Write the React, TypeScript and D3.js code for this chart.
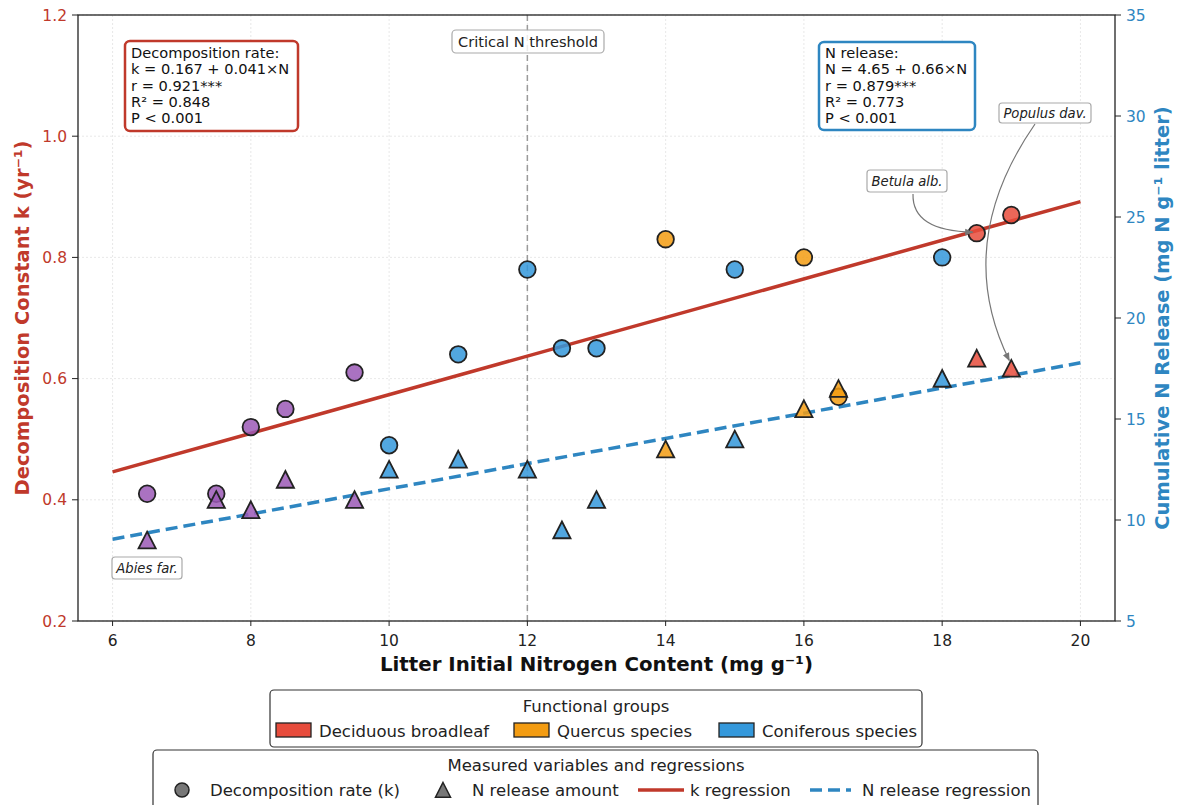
import React from "react";
import * as d3 from "d3";

// ---- Data ----
const nContent = [6.5, 7.5, 8, 8.5, 9.5, 10, 11, 12, 12.5, 13, 14, 15, 16, 16.5, 18, 18.5, 19];
const kValues = [0.41, 0.41, 0.52, 0.55, 0.61, 0.49, 0.64, 0.78, 0.65, 0.65, 0.83, 0.78, 0.8, 0.57, 0.8, 0.84, 0.87];
const nRelease = [9.0, 11.0, 10.5, 12.0, 11.0, 12.5, 13.0, 12.5, 9.5, 11.0, 13.5, 14.0, 15.5, 16.5, 17.0, 18.0, 17.5];
const groups = ["other", "other", "other", "other", "other", "conifer", "conifer", "conifer", "conifer", "conifer", "quercus", "conifer", "quercus", "quercus", "conifer", "deciduous", "deciduous"];

const kFitX = [6, 20];
const kFitY = [0.446, 0.892];
const nFitX = [6, 20];
const nFitY = [9.05, 17.78];

const xTicks = [6, 8, 10, 12, 14, 16, 18, 20];
const kTicks = [0.2, 0.4, 0.6, 0.8, 1.0, 1.2];
const nTicks = [5, 10, 15, 20, 25, 30, 35];
const threshold = 12;

const groupColors: Record<string, string> = {
  deciduous: "#e74c3c",
  quercus: "#f39c12",
  conifer: "#3498db",
  other: "#9b59b6",
};
const groupLegend = [
  { key: "deciduous", label: "Deciduous broadleaf" },
  { key: "quercus", label: "Quercus species" },
  { key: "conifer", label: "Coniferous species" },
];

const kBoxLines = ["Decomposition rate:", "k = 0.167 + 0.041×N", "r = 0.921***", "R² = 0.848", "P < 0.001"];
const nBoxLines = ["N release:", "N = 4.65 + 0.66×N", "r = 0.879***", "R² = 0.773", "P < 0.001"];

const RED = "#c0392b";
const BLUE = "#2e86c1";
const FONT = "DejaVu Sans, sans-serif";

export default function App() {
  const W = 1177, H = 805;
  const m = { left: 78, right: 1115, top: 15, bottom: 621 };
  const x = d3.scaleLinear().domain([5.5, 20.5]).range([m.left, m.right]);
  const yK = d3.scaleLinear().domain([0.2, 1.2]).range([m.bottom, m.top]);
  const yN = d3.scaleLinear().domain([5, 35]).range([m.bottom, m.top]);

  const kLine = d3.line<number>().x((_, i) => x(kFitX[i])).y((d) => yK(d))(kFitY) || "";
  const nLine = d3.line<number>().x((_, i) => x(nFitX[i])).y((d) => yN(d))(nFitY) || "";

  const triPath = (cx: number, cy: number, s: number) =>
    `M${cx},${cy - s}L${cx + s},${cy + s * 0.95}L${cx - s},${cy + s * 0.95}Z`;

  const idxB = nContent.indexOf(18.5);
  const idxP = nContent.indexOf(19);

  // annotation arrows (quadratic curves)
  const betS = [913, 194];
  const betE = [x(nContent[idxB]) - 4, yK(kValues[idxB]) - 1];
  const betC = [912, 231];
  const popS = [1035, 124];
  const popE = [x(nContent[idxP]) - 2, yN(nRelease[idxP]) - 8];
  const popC = [952, 244];

  return (
    <div style={{ position: "fixed", left: 0, top: 0 }}>
      <svg width={W} height={H} style={{ display: "block", fontFamily: FONT }}>
        <defs>
          <marker id="arr" viewBox="0 0 10 10" refX="9" refY="5" markerWidth="7" markerHeight="7" orient="auto-start-reverse">
            <path d="M0,1 L10,5 L0,9 Z" fill="#777" />
          </marker>
        </defs>
        <rect width={W} height={H} fill="white" />

        {/* grid */}
        {xTicks.map((t) => (
          <line key={"gx" + t} x1={x(t)} x2={x(t)} y1={m.top} y2={m.bottom} stroke="#e2e2e2" strokeWidth={0.8} strokeDasharray="2,2" />
        ))}
        {kTicks.map((t) => (
          <line key={"gy" + t} x1={m.left} x2={m.right} y1={yK(t)} y2={yK(t)} stroke="#e2e2e2" strokeWidth={0.8} strokeDasharray="2,2" />
        ))}

        {/* threshold line */}
        <line x1={x(threshold)} x2={x(threshold)} y1={m.top} y2={m.bottom} stroke="#9a9a9a" strokeWidth={1.5} strokeDasharray="6,4" />

        {/* regression lines */}
        <path d={kLine} fill="none" stroke={RED} strokeWidth={3.5} />
        <path d={nLine} fill="none" stroke={BLUE} strokeWidth={3.5} strokeDasharray="12,6" />

        {/* circles (k) */}
        {nContent.map((n, i) => (
          <circle key={"c" + i} cx={x(n)} cy={yK(kValues[i])} r={8.3} fill={groupColors[groups[i]]} fillOpacity={0.85} stroke="#222" strokeWidth={1.8} />
        ))}
        {/* triangles (N release) */}
        {nContent.map((n, i) => (
          <path key={"t" + i} d={triPath(x(n), yN(nRelease[i]), 8.6)} fill={groupColors[groups[i]]} fillOpacity={0.85} stroke="#222" strokeWidth={1.8} strokeLinejoin="miter" />
        ))}

        {/* spines */}
        <rect x={m.left} y={m.top} width={m.right - m.left} height={m.bottom - m.top} fill="none" stroke="#222" strokeWidth={1.3} />

        {/* x ticks */}
        {xTicks.map((t) => (
          <g key={"xt" + t}>
            <line x1={x(t)} x2={x(t)} y1={m.bottom} y2={m.bottom + 5} stroke="#222" strokeWidth={1} />
            <text x={x(t)} y={646} textAnchor="middle" fontSize={15.5} fill="#222">{t}</text>
          </g>
        ))}
        {/* left ticks */}
        {kTicks.map((t) => (
          <g key={"lt" + t}>
            <line x1={m.left - 6} x2={m.left} y1={yK(t)} y2={yK(t)} stroke="#222" strokeWidth={1} />
            <text x={m.left - 11} y={yK(t) + 5.5} textAnchor="end" fontSize={15.5} fill={RED}>{t.toFixed(1)}</text>
          </g>
        ))}
        {/* right ticks */}
        {nTicks.map((t) => (
          <g key={"rt" + t}>
            <line x1={m.right} x2={m.right + 6} y1={yN(t)} y2={yN(t)} stroke="#222" strokeWidth={1} />
            <text x={m.right + 11} y={yN(t) + 5.5} textAnchor="start" fontSize={15.5} fill={BLUE}>{t}</text>
          </g>
        ))}

        {/* axis labels */}
        <text x={(m.left + m.right) / 2} y={671} textAnchor="middle" fontSize={19.8} fontWeight="bold" fill="#111">
          Litter Initial Nitrogen Content (mg g⁻¹)
        </text>
        <text transform={`translate(29,${(m.top + m.bottom) / 2}) rotate(-90)`} textAnchor="middle" fontSize={19.5} fontWeight="bold" fill={RED}>
          Decomposition Constant k (yr⁻¹)
        </text>
        <text transform={`translate(1169,${(m.top + m.bottom) / 2}) rotate(-90)`} textAnchor="middle" fontSize={19.5} fontWeight="bold" fill={BLUE}>
          Cumulative N Release (mg N g⁻¹ litter)
        </text>

        {/* equation boxes */}
        <rect x={125} y={41} width={173} height={90} rx={5} fill="white" stroke={RED} strokeWidth={2.5} />
        {kBoxLines.map((s, i) => (
          <text key={"kb" + i} x={131} y={58.3 + i * 16.1} fontSize={14.6} fill="#111">{s}</text>
        ))}
        <rect x={819} y={42} width={156} height={88} rx={5} fill="white" stroke={BLUE} strokeWidth={2.5} />
        {nBoxLines.map((s, i) => (
          <text key={"nb" + i} x={825} y={58.3 + i * 16.1} fontSize={14.6} fill="#111">{s}</text>
        ))}

        {/* threshold label */}
        <rect x={452} y={30} width={152} height={23} rx={4} fill="white" fillOpacity={0.8} stroke="#aaa" strokeWidth={1.2} />
        <text x={528} y={46.5} textAnchor="middle" fontSize={14.6} fill="#222">Critical N threshold</text>

        {/* species annotations */}
        <path d={`M${betS[0]},${betS[1]} Q${betC[0]},${betC[1]} ${betE[0]},${betE[1]}`} fill="none" stroke="#777" strokeWidth={1.2} markerEnd="url(#arr)" />
        <path d={`M${popS[0]},${popS[1]} Q${popC[0]},${popC[1]} ${popE[0]},${popE[1]}`} fill="none" stroke="#777" strokeWidth={1.2} markerEnd="url(#arr)" />

        <rect x={867} y={170} width={80} height={22} rx={3} fill="white" fillOpacity={0.9} stroke="#aaa" strokeWidth={1.2} />
        <text x={907} y={186} textAnchor="middle" fontSize={13.2} fontStyle="italic" fill="#222">Betula alb.</text>
        <rect x={999} y={103} width={92} height={20} rx={3} fill="white" fillOpacity={0.9} stroke="#aaa" strokeWidth={1.2} />
        <text x={1045} y={118} textAnchor="middle" fontSize={13.2} fontStyle="italic" fill="#222">Populus dav.</text>
        <rect x={112} y={557} width={70} height={22} rx={3} fill="white" fillOpacity={0.9} stroke="#aaa" strokeWidth={1.2} />
        <text x={147} y={573} textAnchor="middle" fontSize={13.2} fontStyle="italic" fill="#222">Abies far.</text>

        {/* legend 1 */}
        <rect x={270} y={690} width={652} height={57} rx={4} fill="white" stroke="#333" strokeWidth={1.2} />
        <text x={596} y={711.5} textAnchor="middle" fontSize={16.5} fill="#222">Functional groups</text>
        {groupLegend.map((g, i) => {
          const px = [276, 514, 719][i];
          return (
            <g key={"lg" + g.key}>
              <rect x={px} y={723} width={35} height={14} fill={groupColors[g.key]} stroke="#222" strokeWidth={1.3} />
              <text x={px + 43} y={736.5} fontSize={16.5} fill="#222">{g.label}</text>
            </g>
          );
        })}

        {/* legend 2 */}
        <rect x={153} y={750} width={885} height={70} rx={4} fill="white" stroke="#333" strokeWidth={1.2} />
        <text x={596} y={771} textAnchor="middle" fontSize={16.5} fill="#222">Measured variables and regressions</text>
        <circle cx={182} cy={790} r={7} fill="#777" stroke="#222" strokeWidth={1.5} />
        <text x={210} y={795.5} fontSize={16.5} fill="#222">Decomposition rate (k)</text>
        <path d={triPath(443, 790, 7.5)} fill="#777" stroke="#222" strokeWidth={1.5} />
        <text x={472} y={795.5} fontSize={16.5} fill="#222">N release amount</text>
        <line x1={638} x2={684} y1={790} y2={790} stroke={RED} strokeWidth={3.5} />
        <text x={690} y={795.5} fontSize={16.5} fill="#222">k regression</text>
        <line x1={810} x2={851} y1={790} y2={790} stroke={BLUE} strokeWidth={3.5} strokeDasharray="12,6" />
        <text x={862} y={795.5} fontSize={16.5} fill="#222">N release regression</text>
      </svg>
    </div>
  );
}
